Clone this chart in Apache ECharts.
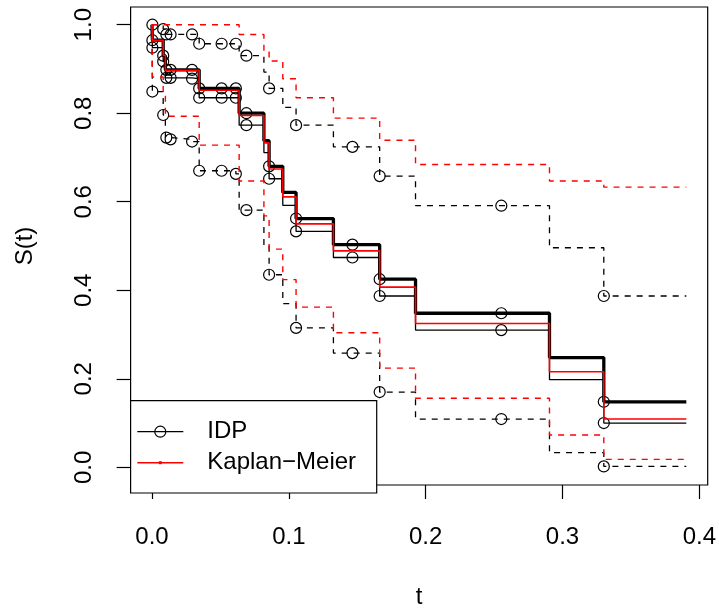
<!DOCTYPE html>
<html><head><meta charset="utf-8">
<script src="https://cdn.jsdelivr.net/npm/echarts@6/dist/echarts.min.js"></script>
<style>html,body{margin:0;padding:0;background:#fff}#c{width:719px;height:614px}</style>
</head><body><div id="c"></div>
<script>
// step times (left end of each step) shared by all curves
const stepTimes = [0, 0.0003, 0.0082, 0.0098, 0.0136, 0.0293, 0.0345, 0.0613, 0.0637, 0.0818, 0.0856, 0.0956, 0.1053, 0.1326, 0.1664, 0.1926, 0.2905, 0.3302, 0.3905];
// IDP curves
const idpThick = [1, 0.965, 0.930, 0.898, 0.898, 0.898, 0.856, 0.856, 0.800, 0.738, 0.680, 0.621, 0.562, 0.503, 0.425, 0.348, 0.248, 0.148, 0.148];
const idpThin  = [1, 0.948, 0.917, 0.880, 0.880, 0.878, 0.835, 0.835, 0.773, 0.711, 0.652, 0.592, 0.533, 0.474, 0.387, 0.310, 0.198, 0.100, 0.100];
const idpUpper = [1, 1, 0.990, 0.978, 0.978, 0.978, 0.957, 0.957, 0.930, 0.893, 0.856, 0.813, 0.773, 0.724, 0.658, 0.591, 0.496, 0.387, 0.387];
const idpLower = [1, 0.849, 0.796, 0.745, 0.741, 0.736, 0.670, 0.663, 0.581, 0.500, 0.435, 0.370, 0.315, 0.258, 0.170, 0.109, 0.033, 0.002, 0.002];
// Kaplan-Meier and its bounds
const kmEst   = [1, 0.965, 0.931, 0.897, 0.897, 0.897, 0.852, 0.852, 0.795, 0.733, 0.674, 0.611, 0.550, 0.489, 0.407, 0.325, 0.216, 0.109, 0.109];
const kmUpper = [1, 1, 1, 1, 1, 1, 1, 1, 0.978, 0.940, 0.918, 0.878, 0.835, 0.789, 0.739, 0.684, 0.647, 0.633, 0.633];
const kmLower = [1, 0.882, 0.840, 0.793, 0.793, 0.793, 0.728, 0.728, 0.647, 0.568, 0.493, 0.424, 0.362, 0.304, 0.224, 0.156, 0.073, 0.018, 0.018];
// observation times where IDP circles are drawn
const obsTimes = [0.0003, 0.0082, 0.0105, 0.0136, 0.0293, 0.0345, 0.0509, 0.0613, 0.069, 0.0856, 0.1053, 0.1465, 0.1664, 0.2553, 0.3302];
// axis ticks
const xTicks = [0, 0.1, 0.2, 0.3, 0.4];
const yTicks = [0, 0.2, 0.4, 0.6, 0.8, 1.0];

const FONT = "'Liberation Sans', Arial, Helvetica, sans-serif";
const pairs = vals => stepTimes.map((t, i) => [t, vals[i]]);
const atTime = (vals, t) => { let v = vals[0]; for (let i = 0; i < stepTimes.length; i++) { if (stepTimes[i] <= t + 1e-9) v = vals[i]; } return v; };
const circles = vals => obsTimes.map(t => [t, atTime(vals, t)]);

function stepSeries(vals, color, width, dashed) {
  return { type: 'line', step: 'end', data: pairs(vals), symbol: 'none', silent: true, animation: false,
    lineStyle: { color: color, width: width, type: dashed ? [6, 6] : 'solid' } };
}
function circleSeries(vals) {
  return { type: 'scatter', data: circles(vals), symbol: 'circle', symbolSize: 11, silent: true, animation: false,
    itemStyle: { color: 'rgba(0,0,0,0)', borderColor: '#000', borderWidth: 1.2, opacity: 1 } };
}

const chart = echarts.init(document.getElementById('c'), null, { renderer: 'canvas' });
const xRange = [0, 0.3905];
const yRange = [0, 1];
const xPad = (xRange[1] - xRange[0]) * 0.04, yPad = (yRange[1] - yRange[0]) * 0.04;

chart.setOption({
  animation: false,
  backgroundColor: '#fff',
  grid: { left: 130.6, top: 7, width: 577.4, height: 486, show: true, borderColor: '#000', borderWidth: 1.2, backgroundColor: 'transparent' },
  xAxis: {
    type: 'value', min: xRange[0] - xPad, max: xRange[1] + xPad,
    splitLine: { show: false }, axisLine: { show: false, onZero: false },
    axisTick: { show: true, customValues: xTicks, length: 14, lineStyle: { color: '#000', width: 1.2 } },
    axisLabel: { customValues: xTicks, formatter: v => v.toFixed(1), color: '#000', fontSize: 24, fontFamily: FONT, margin: 40 },
    name: 't', nameLocation: 'middle', nameGap: 100, nameTextStyle: { color: '#000', fontSize: 24, fontFamily: FONT }
  },
  yAxis: {
    type: 'value', min: yRange[0] - yPad, max: yRange[1] + yPad,
    splitLine: { show: false }, axisLine: { show: false, onZero: false },
    axisTick: { show: true, customValues: yTicks, length: 14, lineStyle: { color: '#000', width: 1.2 } },
    axisLabel: { customValues: yTicks, formatter: v => v.toFixed(1), color: '#000', fontSize: 24, fontFamily: FONT, margin: 34, rotate: 90 },
    name: 'S(t)', nameLocation: 'middle', nameGap: 93, nameTextStyle: { color: '#000', fontSize: 24, fontFamily: FONT }
  },
  series: [
    stepSeries(idpUpper, '#000', 1.3, true),
    stepSeries(idpLower, '#000', 1.3, true),
    stepSeries(idpThin, '#000', 1.3, false),
    stepSeries(idpThick, '#000', 3.3, false),
    circleSeries(idpUpper),
    circleSeries(idpLower),
    circleSeries(idpThin),
    circleSeries(idpThick),
    stepSeries(kmUpper, '#ff0000', 1.4, true),
    stepSeries(kmLower, '#ff0000', 1.4, true),
    stepSeries(kmEst, '#ff0000', 1.6, false)
  ],
  graphic: [
    { type: 'rect', shape: { x: 130.6, y: 400.7, width: 246.1, height: 92.3 }, style: { fill: '#fff', stroke: '#000', lineWidth: 1.2 }, z: 100 },
    { type: 'line', shape: { x1: 137.3, y1: 431.7, x2: 183.3, y2: 431.7 }, style: { stroke: '#000', lineWidth: 1.3 }, z: 101 },
    { type: 'circle', shape: { cx: 160.3, cy: 431.7, r: 5.5 }, style: { fill: 'none', stroke: '#000', lineWidth: 1.2 }, z: 102 },
    { type: 'text', x: 207.3, y: 431.7, style: { text: 'IDP', fill: '#000', fontSize: 24, fontFamily: FONT, verticalAlign: 'middle', align: 'left' }, z: 101 },
    { type: 'line', shape: { x1: 137.3, y1: 462.7, x2: 183.3, y2: 462.7 }, style: { stroke: '#ff0000', lineWidth: 1.4 }, z: 101 },
    { type: 'rect', shape: { x: 158.8, y: 461.2, width: 3, height: 3 }, style: { fill: '#ff0000' }, z: 102 },
    { type: 'text', x: 207.3, y: 462.7, style: { text: 'Kaplan\u2212Meier', fill: '#000', fontSize: 24, fontFamily: FONT, verticalAlign: 'middle', align: 'left' }, z: 101 }
  ]
});
</script></body></html>
